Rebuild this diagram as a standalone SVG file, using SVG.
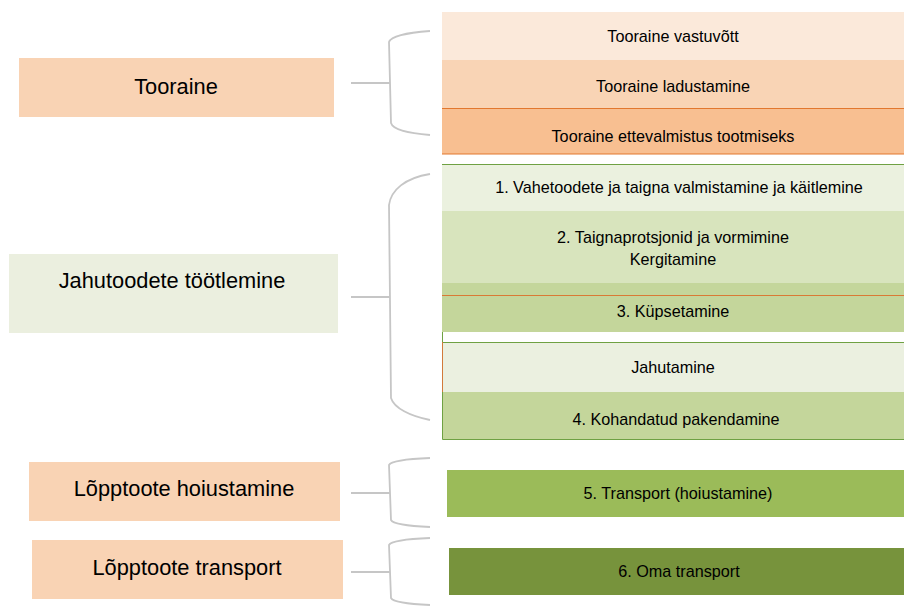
<svg xmlns="http://www.w3.org/2000/svg" width="904" height="606" viewBox="0 0 904 606">
<style>
.t{font-family:"Liberation Sans",Arial,sans-serif;fill:#000;text-anchor:middle}
.L{font-size:21.8px}
.R{font-size:16.2px}
.br{fill:none;stroke:#c6c6c6;stroke-width:1.8}
</style>
<rect width="904" height="606" fill="#fff"/>
<g id="connectors">
<path class="br" d="M351,83 H390 M430,31 C405,33 391,36 389,42 L391,123 C393,130 408,133 430,135"/>
<path class="br" d="M351,297 H390 M430,174 C405,178 391,190 389,205 L391,398 C394,408 410,416 430,420"/>
<path class="br" d="M351,493 H390 M430,458 C405,459 391,461 389,465 L391,520 C393,524 408,526 430,527"/>
<path class="br" d="M351,572 H390 M430,538 C405,539 391,541 389,545 L391,598 C393,602 408,604 430,605"/>
</g>
<g id="n-tooraine"><rect x="19" y="58" width="315" height="59" fill="#f9d3b4"/><text class="t L" x="176" y="94">Tooraine</text></g>
<g id="n-jahutoodete"><rect x="9" y="254" width="329" height="79" fill="#ebefdf"/><text class="t L" x="172" y="288">Jahutoodete töötlemine</text></g>
<g id="n-hoiustamine"><rect x="29" y="462" width="311" height="59" fill="#f9d3b4"/><text class="t L" x="184" y="496">Lõpptoote hoiustamine</text></g>
<g id="n-transport"><rect x="32" y="540" width="311" height="59" fill="#f9d3b4"/><text class="t L" x="187" y="575">Lõpptoote transport</text></g>

<g id="r-vastuvott"><rect x="442" y="12" width="462" height="48" fill="#fbe9da"/><text class="t R" x="673" y="42">Tooraine vastuvõtt</text></g>
<g id="r-ladustamine"><rect x="442" y="60" width="462" height="48" fill="#f9d4b5"/><text class="t R" x="673" y="91.5">Tooraine ladustamine</text></g>
<g id="r-ettevalmistus"><rect x="442" y="108" width="462" height="46" fill="#f8bf91"/><path d="M442,108.5 H904 M442,154 H904" stroke="#e2782f" stroke-width="1.2"/><text class="t R" x="673" y="142">Tooraine ettevalmistus tootmiseks</text></g>

<g id="r-vahetoodete"><rect x="442" y="164" width="462" height="47" fill="#ebf1df"/><path d="M442,164.5 H904" stroke="#6fa143" stroke-width="1"/><text class="t R" x="679" y="193">1. Vahetoodete ja taigna valmistamine ja käitlemine</text></g>
<g id="r-taignaprotsjonid"><rect x="442" y="211" width="462" height="84" fill="#d8e4bd"/><rect x="442" y="283" width="462" height="12" fill="#c4d69b"/><text class="t R" x="673" y="243">2. Taignaprotsjonid ja vormimine</text><text class="t R" x="673" y="265">Kergitamine</text></g>
<g id="r-kupsetamine"><rect x="442" y="295" width="462" height="37" fill="#c4d69b"/><path d="M442,295.5 H904" stroke="#d97a35" stroke-width="1"/><text class="t R" x="673" y="317">3. Küpsetamine</text></g>
<g id="r-jahutamine"><rect x="442" y="342" width="462" height="50" fill="#ebf0e0"/><path d="M442,342.5 H904 M442.5,332 V342" stroke="#6fa143" stroke-width="1" fill="none"/><path d="M442.5,342 V392" stroke="#d27a3a" stroke-width="1"/><text class="t R" x="673" y="373">Jahutamine</text></g>
<g id="r-pakendamine"><rect x="442" y="392" width="462" height="47" fill="#c4d69b"/><path d="M442.5,392 V439.5 H904" stroke="#6fa143" stroke-width="1" fill="none"/><text class="t R" x="676" y="425">4. Kohandatud pakendamine</text></g>

<g id="r-transport5"><rect x="447" y="470" width="457" height="47" fill="#9bbb59"/><text class="t R" x="678" y="499">5. Transport (hoiustamine)</text></g>
<g id="r-transport6"><rect x="449" y="548" width="455" height="47" fill="#77933c"/><text class="t R" x="679" y="577">6. Oma transport</text></g>
</svg>
